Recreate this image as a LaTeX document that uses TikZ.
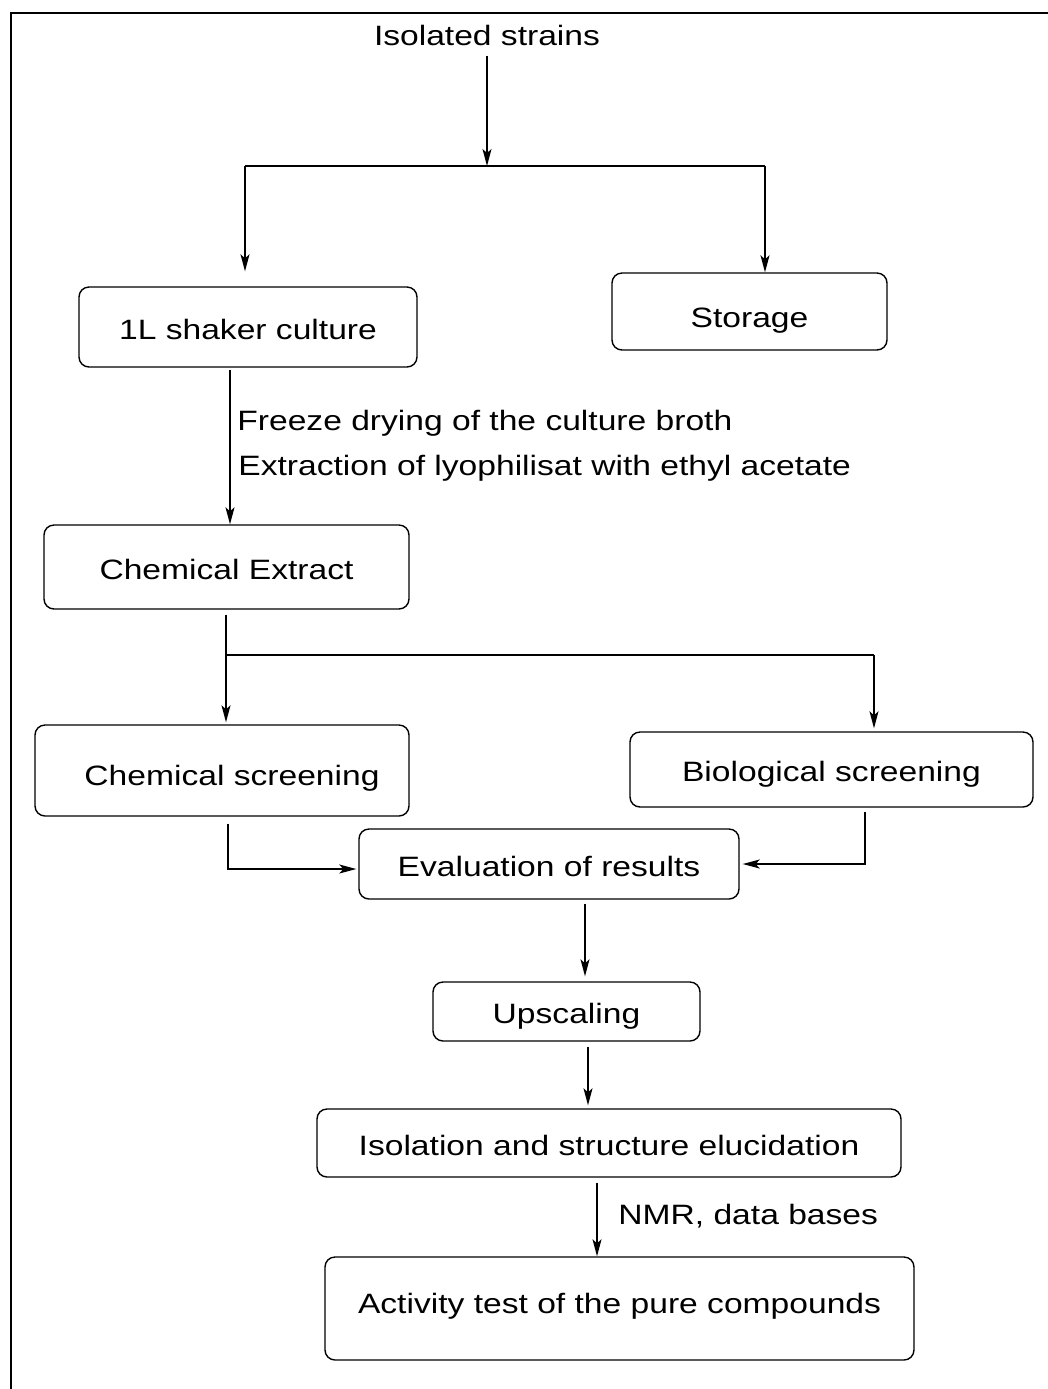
\documentclass[tikz,border=0pt]{standalone}
\usepackage{fontspec}
\setmainfont{Liberation Sans}[FakeStretch=1.2]
\usepackage{tikz}
\usetikzlibrary{arrows.meta,positioning}
\tikzset{
  stage/.style={draw,rounded corners=5pt,line width=0.7pt,inner sep=0pt,text height=13pt,text depth=1pt,font=\fontsize{14pt}{16pt}\selectfont},
  caption/.style={font=\fontsize{14pt}{16pt}\selectfont,inner sep=0pt},
  flow/.style={line width=0.7pt,-{Stealth[length=8.5pt,width=4.5pt,inset=2pt]}},
  branch/.style={line width=1.1pt},
}

\begin{document}
\begin{tikzpicture}[x=0.5pt,y=-0.5pt]
  \useasboundingbox (0,0) rectangle (1048,1389);
  \clip (0,0) rectangle (1048,1389);
  \draw[line width=1pt] (11,13) rectangle (1070,1410);

  % boxes
  \node[caption] (strains) at (487,35) {Isolated strains};
  \node[stage,minimum width=169pt,minimum height=40pt] (shaker) at (248,327) {1L shaker culture};
  \node[stage,minimum width=137.5pt,minimum height=38.5pt,text height=16pt,text depth=0.5pt] (storage) at (749.5,311.5) {Storage};
  \node[stage,minimum width=182.5pt,minimum height=42pt] (extract) at (226.5,567) {Chemical Extract};
  \node[stage,minimum width=187pt,minimum height=45.5pt,text height=15pt,text depth=0.5pt] (chemscr) at (222,770.5) {\hspace*{10pt}Chemical screening};
  \node[stage,minimum width=201.5pt,minimum height=37.5pt] (bioscr) at (831.5,769.5) {Biological screening};
  \node[stage,minimum width=190pt,minimum height=35pt] (eval) at (549,864) {Evaluation of results};
  \node[stage,minimum width=133.5pt,minimum height=29.5pt] (upscale) at (566.5,1011.5) {Upscaling};
  \node[stage,minimum width=292pt,minimum height=34pt] (isol) at (609,1143) {Isolation and structure elucidation};
  \node[stage,minimum width=294.5pt,minimum height=51.5pt,text height=10pt,text depth=5.5pt] (activity) at (619.5,1308.5) {Activity test of the pure compounds};

  % labels
  \node[caption,anchor=west] (dryLabel) at (237,423) {Freeze drying of the culture broth};
  \node[caption,anchor=west] (extrLabel) at (238,468) {Extraction of lyophilisat with ethyl acetate};
  \node[caption,anchor=west] (nmrLabel) at (618,1216) {NMR, data bases};

  % tracks of the arrows
  \coordinate (splitL) at (245,166);
  \coordinate (splitR) at (765,166);
  \coordinate (forkL) at (226,655);
  \coordinate (forkR) at (874,655);
  \coordinate (t2) at (230,0);
  \coordinate (t3) at (228,0);
  \coordinate (t4) at (865,0);
  \coordinate (t5) at (585,0);
  \coordinate (t6) at (588,0);
  \coordinate (t7) at (597,0);

  % connectors
  \draw[flow,shorten <=5pt] (strains.south) -- (strains.south |- splitL);
  \draw[branch] (splitL) -- (splitR);
  \draw[flow,shorten >=7.5pt] (splitL) -- (splitL |- shaker.north);
  \draw[flow] (splitR) -- (splitR |- storage.north);
  \draw[flow,shorten <=1pt] (t2 |- shaker.south) -- (t2 |- extract.north);
  \draw[line width=0.7pt,shorten <=2.5pt] (forkL |- extract.south) -- (forkL);
  \draw[branch] (forkL) -- (forkR);
  \draw[flow,shorten >=1pt] (forkL) -- (forkL |- chemscr.north);
  \draw[flow,shorten >=1.5pt] (forkR) -- (forkR |- bioscr.north);
  \draw[flow,shorten <=3.5pt,shorten >=1pt] (t3 |- chemscr.south) |- ([yshift=-2.5pt]eval.west);
  \draw[flow,shorten <=2pt,shorten >=1.5pt] (t4 |- bioscr.south) |- (eval.east);
  \draw[flow,shorten <=2pt,shorten >=2.5pt] (t5 |- eval.south) -- (t5 |- upscale.north);
  \draw[flow,shorten <=2.5pt,shorten >=1.5pt] (t6 |- upscale.south) -- (t6 |- isol.north);
  \draw[flow,shorten <=2.5pt] (t7 |- isol.south) -- (t7 |- activity.north);
\end{tikzpicture}
\end{document}
